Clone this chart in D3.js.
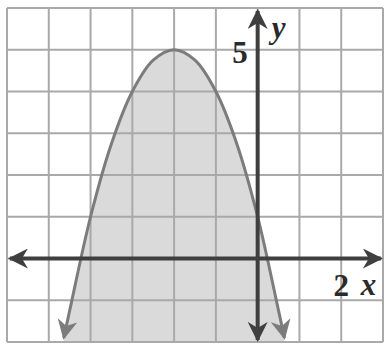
<!DOCTYPE html>
<html><head><meta charset="utf-8">
<script src="https://cdn.jsdelivr.net/npm/d3@7"></script>
<style>body{margin:0;background:#fff}svg{display:block}</style>
</head><body>
<script>
// Data
const xGrid = [-6,-5,-4,-3,-2,-1,0,1,2,3];
const yGrid = [-2,-1,0,1,2,3,4,5,6];
const curveX = [-4.64,-4.5,-4,-3.5,-3,-2.5,-2,-1.5,-1,-0.5,0,0.5,0.64];
const curveY = [-1.9,-1.25,1,2.75,4,4.75,5,4.75,4,2.75,1,-1.25,-1.9];
const axisLabels = [{t:"5",x:-0.42,y:4.95},{t:"2",x:2.0,y:-0.65}];
const axisNames = [{t:"y",x:0.5,y:5.5},{t:"x",x:2.65,y:-0.65}];

const W=385,H=349;
const xS=d3.scaleLinear().domain([-6,3]).range([7,383]);
const yS=d3.scaleLinear().domain([-2,6]).range([342,8]);
const svg=d3.select("body").append("svg").attr("width",W).attr("height",H);
const defs=svg.append("defs");
function marker(id,color,size){
  defs.append("marker").attr("id",id).attr("viewBox","0 0 10 10").attr("refX",9).attr("refY",5)
   .attr("markerUnits","userSpaceOnUse").attr("markerWidth",size).attr("markerHeight",size)
   .attr("orient","auto-start-reverse")
   .append("path").attr("d","M0,0 L10,5 L0,10 L3,5 Z").attr("fill",color);
}
marker("ax","#3f3f3f",20);
marker("cv","#7c7c7c",20);

const pts=curveX.map((x,i)=>[x,curveY[i]]);
// shaded region
const area=d3.area().x(d=>xS(d[0])).y0(yS(-2)).y1(d=>yS(d[1])).curve(d3.curveCatmullRom);
svg.append("path").datum(pts).attr("d",area).attr("fill","#dadada");

// grid
svg.append("g").selectAll("line").data(xGrid).join("line")
  .attr("x1",d=>xS(d)).attr("x2",d=>xS(d)).attr("y1",yS(-2)).attr("y2",yS(6))
  .attr("stroke","#a9a9a9").attr("stroke-width",2);
svg.append("g").selectAll("line").data(yGrid).join("line")
  .attr("y1",d=>yS(d)).attr("y2",d=>yS(d)).attr("x1",xS(-6)).attr("x2",xS(3))
  .attr("stroke","#a9a9a9").attr("stroke-width",2);

// curve
const line=d3.line().x(d=>xS(d[0])).y(d=>yS(d[1])).curve(d3.curveCatmullRom);
svg.append("path").datum(pts).attr("d",line).attr("fill","none")
  .attr("stroke","#7c7c7c").attr("stroke-width",3)
  .attr("marker-start","url(#cv)").attr("marker-end","url(#cv)");

// axes
svg.append("line").attr("x1",xS(-5.93)).attr("x2",xS(2.95)).attr("y1",yS(0)).attr("y2",yS(0))
  .attr("stroke","#3f3f3f").attr("stroke-width",4)
  .attr("marker-start","url(#ax)").attr("marker-end","url(#ax)");
svg.append("line").attr("x1",xS(0)).attr("x2",xS(0)).attr("y1",yS(5.93)).attr("y2",yS(-1.95))
  .attr("stroke","#3f3f3f").attr("stroke-width",4)
  .attr("marker-start","url(#ax)").attr("marker-end","url(#ax)");

// labels
svg.append("g").selectAll("text").data(axisLabels).join("text")
  .attr("x",d=>xS(d.x)).attr("y",d=>yS(d.y)).attr("dy","0.35em").attr("text-anchor","middle")
  .attr("font-family","Liberation Serif, DejaVu Serif, serif").attr("font-size",31)
  .attr("font-weight","bold").attr("fill","#2a2a2a").text(d=>d.t);
svg.append("g").selectAll("text").data(axisNames).join("text")
  .attr("x",d=>xS(d.x)).attr("y",d=>yS(d.y)).attr("dy","0.3em").attr("text-anchor","middle")
  .attr("font-family","Liberation Serif, DejaVu Serif, serif").attr("font-size",31)
  .attr("font-style","italic").attr("font-weight","bold").attr("fill","#2a2a2a").text(d=>d.t);
</script>
</body></html>
